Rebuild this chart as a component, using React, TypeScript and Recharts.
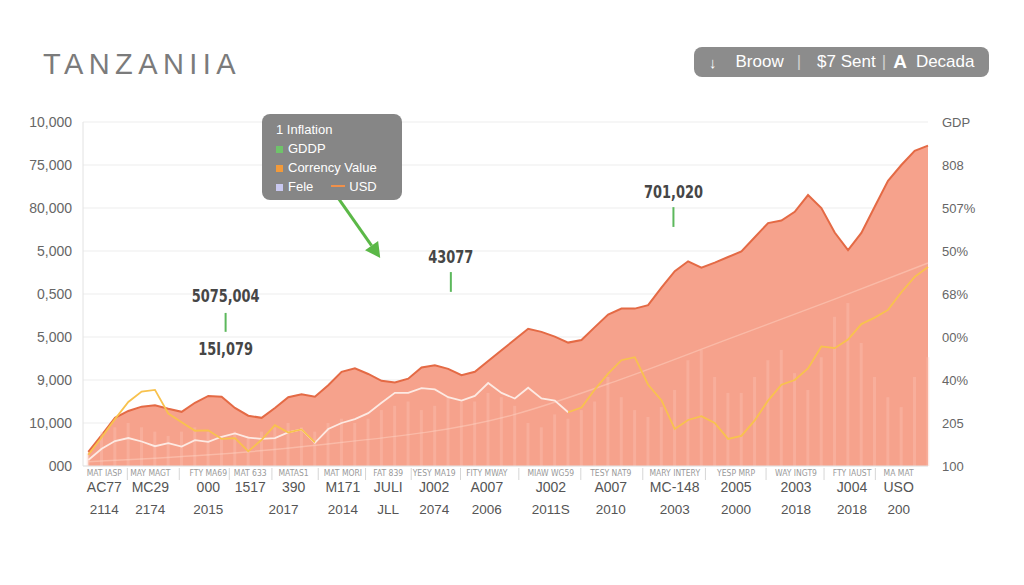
import {
  ComposedChart,
  Area,
  Bar,
  Line,
  XAxis,
  YAxis,
  CartesianGrid,
  ReferenceLine,
  ReferenceDot,
} from "recharts";

// values, one point per step along the x axis
const gdp = [
  0.33, 0.72, 1.12, 1.28, 1.38, 1.41, 1.33, 1.26, 1.47, 1.63,
  1.61, 1.35, 1.17, 1.12, 1.35, 1.6, 1.67, 1.61, 1.88, 2.19,
  2.27, 2.14, 1.98, 1.94, 2.03, 2.29, 2.34, 2.26, 2.11, 2.19,
  2.44, 2.69, 2.94, 3.19, 3.12, 3.01, 2.87, 2.93, 3.23, 3.52,
  3.66, 3.66, 3.74, 4.15, 4.53, 4.76, 4.61, 4.73, 4.86, 4.99,
  5.32, 5.65, 5.71, 5.91, 6.3, 6.0, 5.43, 5.02, 5.42, 6.03,
  6.63, 7.0, 7.33, 7.45,
];

const inflation = [
  0.3, 0.8, 0.9, 1.0, 0.9, 0.8, 0.7, 0.8, 0.9, 0.8,
  0.7, 0.8, 0.7, 0.8, 0.9, 1.0, 0.9, 0.8, 1.0, 1.1,
  1.0, 1.1, 1.3, 1.4, 1.5, 1.3, 1.4, 1.6, 1.5, 1.5,
  1.7, 1.6, 1.4, 1.0, 0.9, 1.2, 1.1, 1.3, 1.5, 2.07,
  1.6, 1.3, 1.14, 1.37, 1.77, 2.46, 2.7, 2.07, 1.7, 1.7,
  2.07, 2.46, 2.7, 2.16, 1.77, 2.53, 3.47, 3.79, 2.86, 2.07,
  1.6, 1.37, 2.07, 2.53,
];

const fele = [
  0.14, 0.4, 0.58, 0.65, 0.57, 0.46, 0.53, 0.45, 0.6, 0.56,
  0.68, 0.76, 0.66, 0.63, 0.65, 0.78, 0.85, 0.54, 0.86, 1.0,
  1.09, 1.23, 1.47, 1.7, 1.7, 1.81, 1.78, 1.6, 1.52, 1.63,
  1.93, 1.7, 1.57, 1.82, 1.57, 1.52, 1.25, null, null, null,
  null, null, null, null, null, null, null, null, null, null,
  null, null, null, null, null, null, null, null, null, null,
  null, null, null, null,
];

const currency = [
  0.26, 0.67, 1.09, 1.49, 1.73, 1.77, 1.22, 1.02, 0.82, 0.83,
  0.63, 0.65, 0.34, 0.61, 0.95, 0.78, 0.85, 0.55, null, null,
  null, null, null, null, null, null, null, null, null, null,
  null, null, null, null, null, null, 1.25, 1.36, 1.78, 2.15,
  2.46, 2.53, 1.89, 1.53, 0.86, 1.07, 1.16, 1.0, 0.63, 0.7,
  1.06, 1.52, 1.89, 2.0, 2.27, 2.78, 2.74, 2.94, 3.3, 3.45,
  3.63, 4.04, 4.4, 4.63,
];

const trend = [
  { i: 0, v: 0.1 },
  { i: 16, v: 0.45 },
  { i: 32, v: 1.2 },
  { i: 40, v: 2.02 },
  { i: 48, v: 2.95 },
  { i: 56, v: 3.88 },
  { i: 63, v: 4.72 },
];

const leftLabels = ["000", "10,000", "9,000", "5,000", "0,500", "5,000", "80,000", "75,000", "10,000"];
const rightLabels = ["100", "205", "40%", "00%", "68%", "50%", "507%", "808", "GDP"];

const tickPos = [1.2, 4.65, 9.0, 12.15, 15.4, 19.1, 22.5, 25.95, 29.9, 34.7, 39.2, 44.0, 48.6, 53.1, 57.3, 60.8];
const row1 = [
  "MAT IASP", "MAY MAGT", "FTY MA69", "MAT 633", "MATAS1", "MAT MORI", "FAT 839", "YESY MA19",
  "FITY MWAY", "MIAW WG59", "TESY NAT9", "MARY INTERY", "YESP MRP", "WAY INGT9", "FTY IAUST", "MA MAT",
];
const row2 = ["AC77", "MC29", "000", "1517", "390", "M171", "JULI", "J002", "A007", "J002", "A007", "MC-148", "2005", "2003", "J004", "USO"];
const row3 = ["2114", "2174", "2015", "", "2017", "2014", "JLL", "2074", "2006", "2011S", "2010", "2003", "2000", "2018", "2018", "200"];

const notes = [
  { i: 10.3, top: 3.95, from: 3.56, to: 3.12, value: "5075,004" },
  { i: 27.2, top: 4.86, from: 4.51, to: 4.05, value: "43077" },
  { i: 43.9, top: 6.37, from: 6.02, to: 5.56, value: "701,020" },
];

const data = gdp.map((g, i) => ({
  i,
  gdp: g,
  inflation: inflation[i],
  fele: fele[i],
  currency: currency[i],
}));

const PX_PER_UNIT = 845 / 63.4;
const narrow = "'DejaVu Sans Condensed', 'DejaVu Sans', sans-serif";

function XTick(props: any) {
  const { x, y, payload } = props;
  const k = tickPos.indexOf(payload.value);
  const sep = k > 0 ? x - ((tickPos[k] - tickPos[k - 1]) / 2) * PX_PER_UNIT : null;
  return (
    <g>
      {sep !== null && <line x1={sep} x2={sep} y1={y + 2} y2={y + 14} stroke="#d6d6d6" />}
      <text x={x} y={y + 10} textAnchor="middle" fontSize={8.5} fill="#9a9a9a" fontFamily={narrow}>
        {row1[k]}
      </text>
      <text x={x} y={y + 26} textAnchor="middle" fontSize={14} fill="#555">
        {row2[k]}
      </text>
      <text x={x + (k === 4 ? -10 : 0)} y={y + 48} textAnchor="middle" fontSize={13.5} fill="#555">
        {row3[k]}
      </text>
    </g>
  );
}

// condensed bold label, squeezed horizontally
function NoteText(props: any) {
  const { cx, cy, value } = props;
  return (
    <text
      transform={`translate(${cx},${cy + 6}) scale(0.8,1)`}
      x={0}
      y={0}
      textAnchor="middle"
      fontSize={18}
      fontWeight="bold"
      fill="#464646"
      fontFamily={narrow}
    >
      {value}
    </text>
  );
}

function Arrow(props: any) {
  const { x1, y1, x2, y2 } = props;
  const a = Math.atan2(y2 - y1, x2 - x1);
  const len = 15;
  const w = 8;
  const bx = x2 - len * Math.cos(a);
  const by = y2 - len * Math.sin(a);
  const p1 = `${bx + w * Math.sin(a)},${by - w * Math.cos(a)}`;
  const p2 = `${bx - w * Math.sin(a)},${by + w * Math.cos(a)}`;
  return (
    <g>
      <line x1={x1} y1={y1} x2={bx} y2={by} stroke="#5bb847" strokeWidth={3} />
      <polygon points={`${x2},${y2} ${p1} ${p2}`} fill="#5bb847" />
    </g>
  );
}

const font = "'Liberation Sans', Arial, sans-serif";

export default function App() {
  return (
    <div style={{ position: "absolute", left: 0, top: 0, width: 1024, height: 585, background: "#fff", fontFamily: font }}>
      <div style={{ position: "absolute", left: 43, top: 48, fontSize: 29, letterSpacing: 5.4, color: "#7b7b7b" }}>
        TANZANIIA
      </div>
      <div
        style={{
          position: "absolute",
          left: 694,
          top: 47,
          width: 295,
          height: 30,
          borderRadius: 8,
          background: "#8c8c8c",
          color: "#fff",
          fontSize: 17,
          display: "flex",
          alignItems: "center",
          whiteSpace: "nowrap",
        }}
      >
        <span style={{ marginLeft: 15, fontSize: 15 }}>↓</span>
        <span style={{ marginLeft: 19 }}>Broow</span>
        <span style={{ marginLeft: 13, color: "#d0d0d0" }}>|</span>
        <span style={{ marginLeft: 16 }}>$7 Sent</span>
        <span style={{ marginLeft: 6, color: "#d0d0d0" }}>|</span>
        <span style={{ marginLeft: 7, fontWeight: "bold", fontSize: 19 }}>A</span>
        <span style={{ marginLeft: 9 }}>Decada</span>
      </div>

      <ComposedChart
        width={1024}
        height={585}
        data={data}
        margin={{ top: 122, right: 36, bottom: 59, left: 23 }}
        style={{ position: "absolute", left: 0, top: 0 }}
      >
        <CartesianGrid vertical={false} stroke="#ededed" yAxisId="left" />
        <XAxis
          dataKey="i"
          type="number"
          domain={[-0.4, 63]}
          ticks={tickPos}
          interval={0}
          height={60}
          tickSize={0}
          tickMargin={0}
          axisLine={{ stroke: "#e2e2e2" }}
          tickLine={false}
          tick={<XTick />}
        />
        <YAxis
          yAxisId="left"
          width={60}
          domain={[0, 8]}
          ticks={[0, 1, 2, 3, 4, 5, 6, 7, 8]}
          tickFormatter={(v: number) => leftLabels[v]}
          tickSize={0}
          tickMargin={11}
          axisLine={{ stroke: "#e2e2e2" }}
          tickLine={false}
          tick={{ fontSize: 14, fill: "#666" }}
        />
        <YAxis
          yAxisId="right"
          orientation="right"
          width={60}
          domain={[0, 8]}
          ticks={[0, 1, 2, 3, 4, 5, 6, 7, 8]}
          tickFormatter={(v: number) => rightLabels[v]}
          tickSize={0}
          tickMargin={14}
          axisLine={false}
          tickLine={false}
          tick={{ fontSize: 13, fill: "#666", textAnchor: "start" }}
        />
        <Area
          yAxisId="left"
          dataKey="gdp"
          type="linear"
          fill="#f6a28c"
          fillOpacity={1}
          stroke="#e46a45"
          strokeWidth={2}
          isAnimationActive={false}
        />
        <Bar yAxisId="left" dataKey="inflation" barSize={3} fill="#fdc7b8" fillOpacity={0.35} isAnimationActive={false} />
        <Line
          yAxisId="right"
          data={trend}
          dataKey="v"
          type="monotone"
          stroke="#ffd6c8"
          strokeOpacity={0.45}
          strokeWidth={1.5}
          dot={false}
          isAnimationActive={false}
        />
        <Line
          yAxisId="left"
          dataKey="fele"
          type="linear"
          stroke="#fdeae3"
          strokeWidth={1.8}
          dot={false}
          isAnimationActive={false}
        />
        <Line
          yAxisId="left"
          dataKey="currency"
          type="linear"
          stroke="#f8c24e"
          strokeWidth={1.8}
          dot={false}
          isAnimationActive={false}
        />
        {notes.map((n) => (
          <ReferenceLine
            key={`tick-${n.value}`}
            yAxisId="left"
            segment={[
              { x: n.i, y: n.from },
              { x: n.i, y: n.to },
            ]}
            stroke="#5cb85c"
            strokeWidth={2}
          />
        ))}
        {notes.map((n) => (
          <ReferenceDot
            key={`note-${n.value}`}
            yAxisId="left"
            x={n.i}
            y={n.top}
            r={1}
            shape={(p: any) => <NoteText {...p} value={n.value} />}
          />
        ))}
        <ReferenceDot
          yAxisId="left"
          x={10.3}
          y={2.72}
          r={1}
          shape={(p: any) => <NoteText {...p} value="15I,079" />}
        />
        <ReferenceLine
          yAxisId="left"
          segment={[
            { x: 18.75, y: 6.23 },
            { x: 21.9, y: 4.84 },
          ]}
          shape={(p: any) => <Arrow {...p} />}
        />
      </ComposedChart>

      <div
        style={{
          position: "absolute",
          left: 262,
          top: 114,
          width: 140,
          height: 86,
          borderRadius: 8,
          background: "#868686",
          color: "#fff",
          fontSize: 13,
          lineHeight: "19px",
          padding: "6px 0 0 14px",
          boxSizing: "border-box",
          whiteSpace: "nowrap",
        }}
      >
        <div>1 Inflation</div>
        <div>
          <span style={{ display: "inline-block", width: 7, height: 7, background: "#6fc36a", marginRight: 5 }} />
          GDDP
        </div>
        <div>
          <span style={{ display: "inline-block", width: 7, height: 7, background: "#f29a3a", marginRight: 5 }} />
          Corrency Value
        </div>
        <div>
          <span style={{ display: "inline-block", width: 7, height: 7, background: "#c9c8f0", marginRight: 5 }} />
          Fele
          <span style={{ display: "inline-block", width: 14, height: 2, background: "#f0904a", margin: "0 4px 4px 18px" }} />
          USD
        </div>
      </div>
    </div>
  );
}
